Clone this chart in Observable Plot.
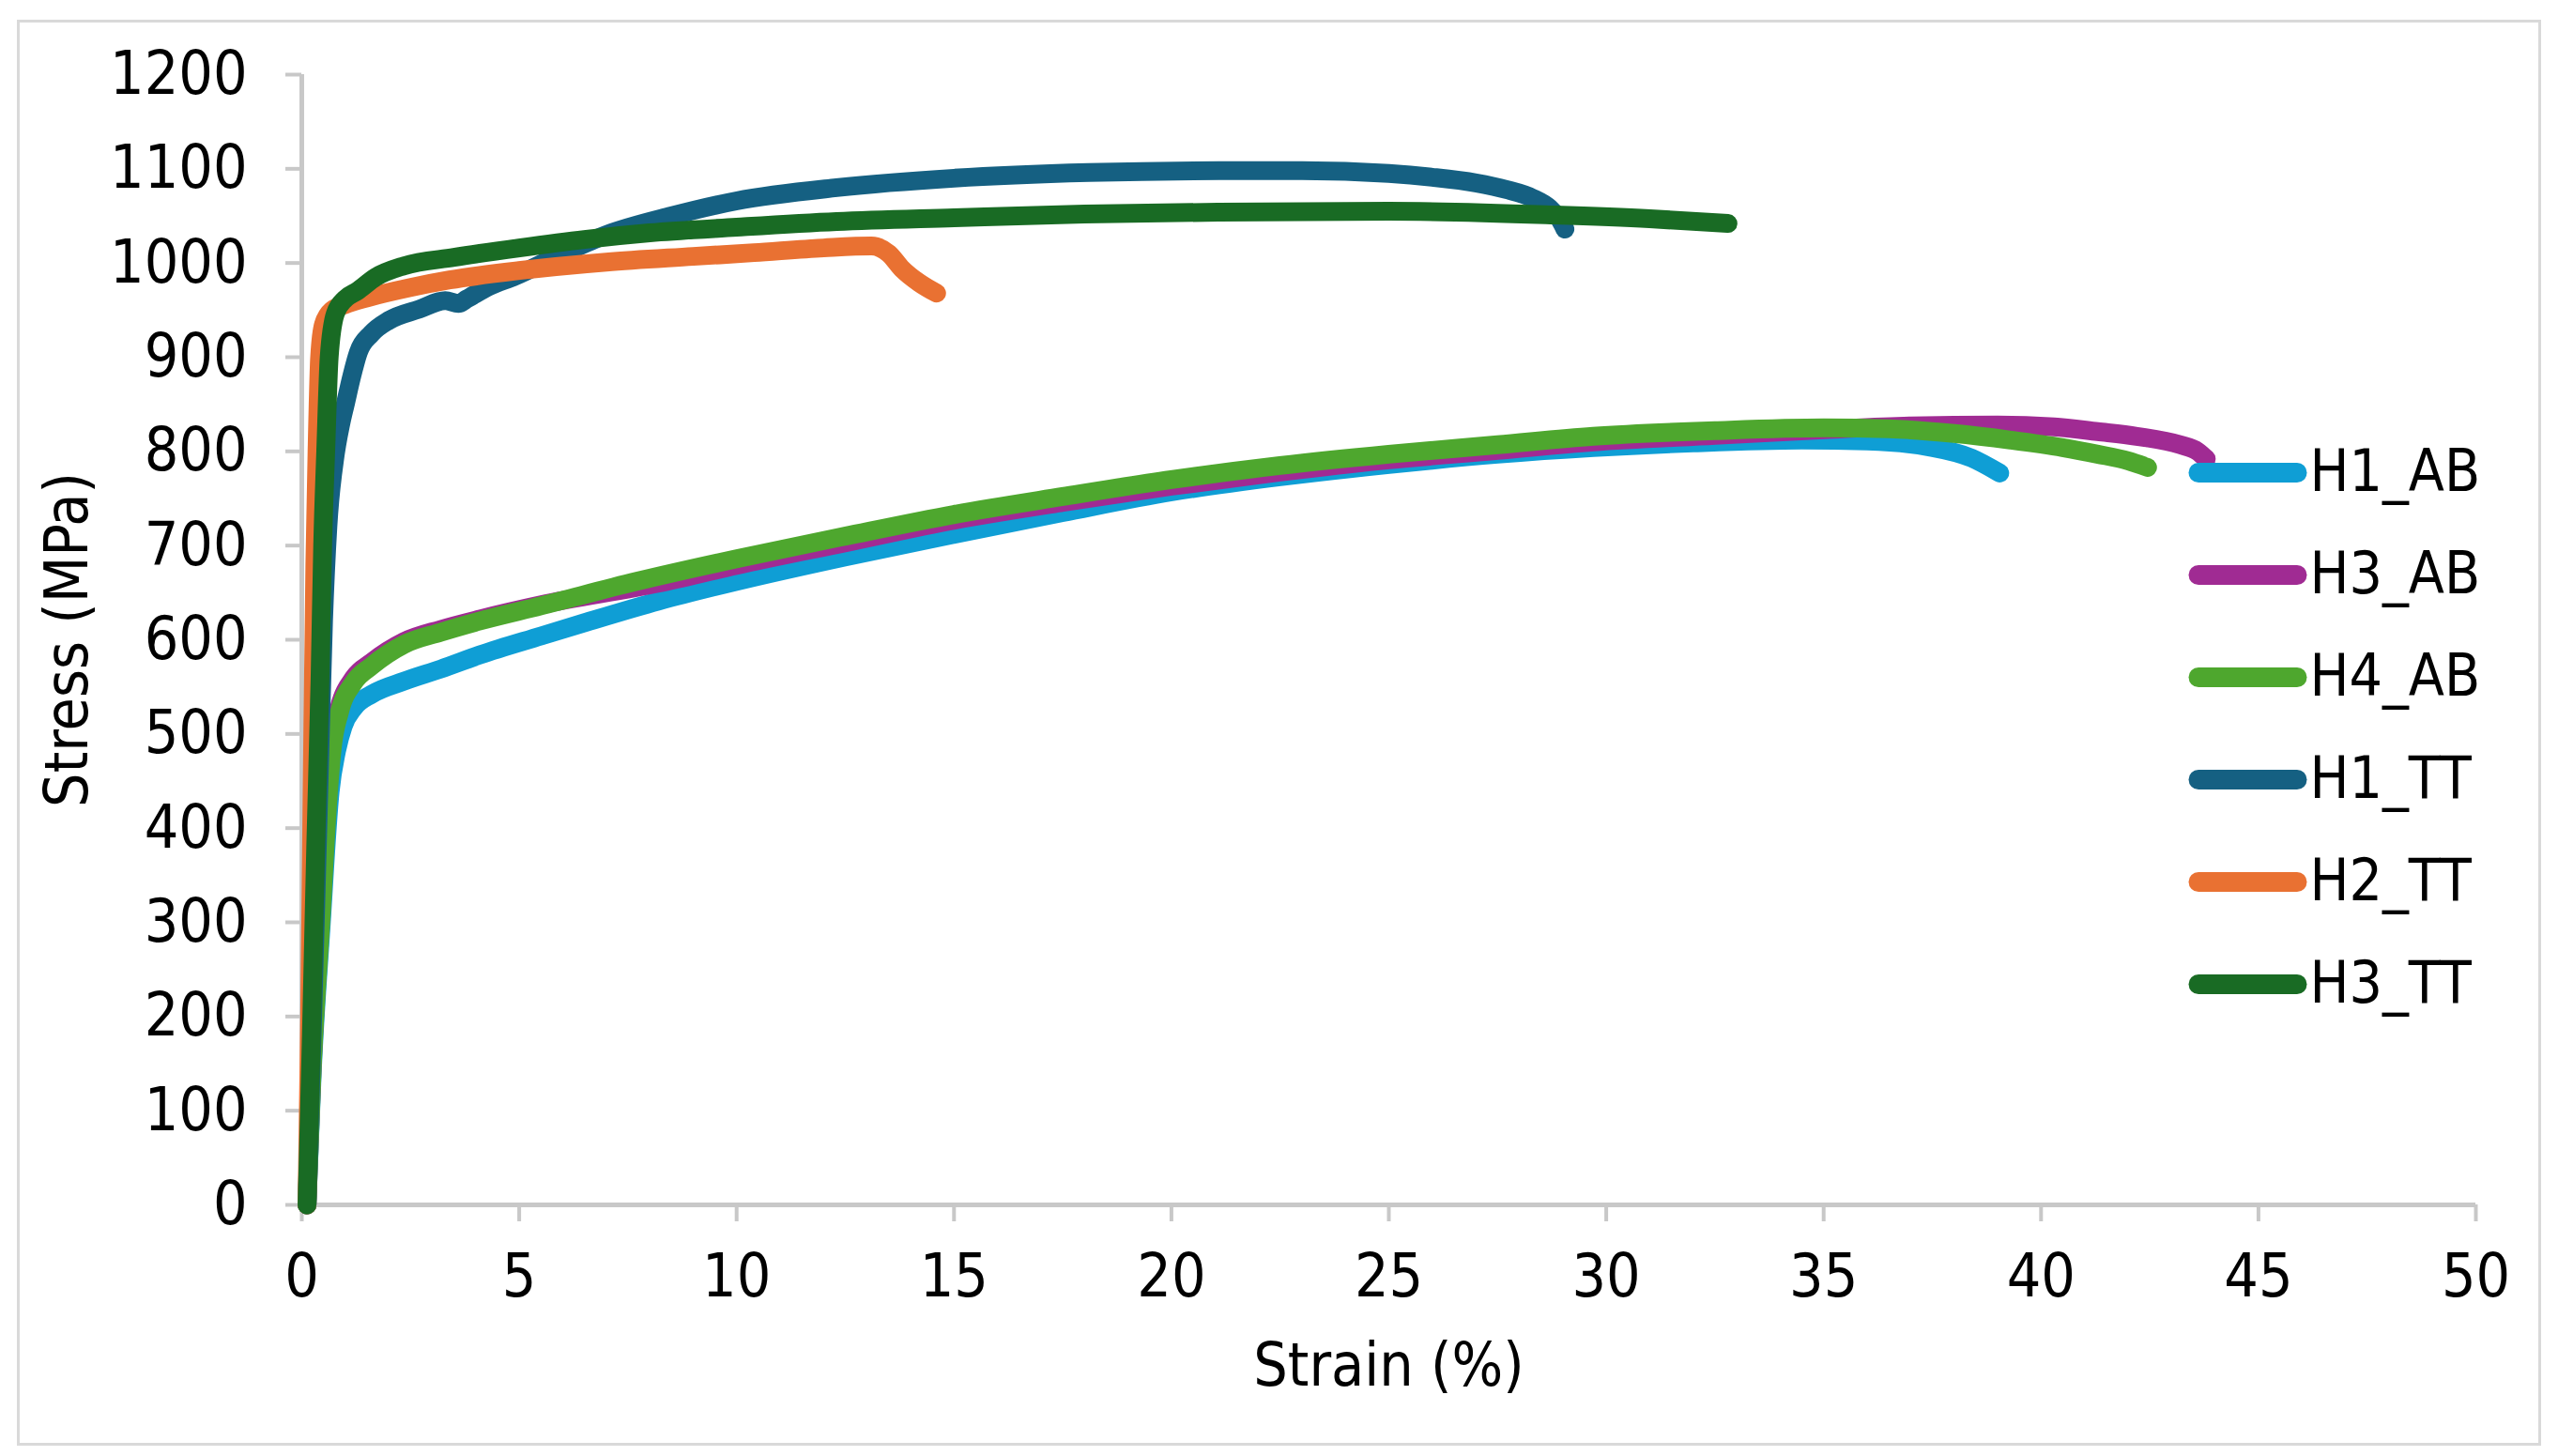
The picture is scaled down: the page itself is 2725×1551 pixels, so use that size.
<!DOCTYPE html>
<html>
<head>
<meta charset="utf-8">
<script src="https://cdn.jsdelivr.net/npm/d3@7"></script>
<script src="https://cdn.jsdelivr.net/npm/@observablehq/plot@0.6"></script>
<style>
  html, body { margin: 0; padding: 0; background: #fff; }
  #wrap { position: relative; width: 2725px; height: 1551px; overflow: hidden; }
  #border { position: absolute; left: 18px; top: 21px; width: 2689px; height: 1519px; border: 3px solid #d9d9d9; box-sizing: border-box; }
  #chart, #legend { position: absolute; top: 0; }
  #chart { left: 0; }
  #legend { left: 2320px; }
  svg { font-family: "DejaVu Sans Condensed", "DejaVu Sans", sans-serif; font-stretch: condensed; }
</style>
</head>
<body>
<div id="wrap"><div id="border"></div><div id="chart"></div><div id="legend"></div></div>
<script>
// ---- data (strain %, stress MPa) ----
const seriesNames = ["H1_AB", "H3_AB", "H4_AB", "H1_TT", "H2_TT", "H3_TT"];
const palette = ["#0F9ED5", "#A02B93", "#4EA72E", "#156082", "#E97132", "#196B24"];
const xTicks = [0, 5, 10, 15, 20, 25, 30, 35, 40, 45, 50];
const yTicks = [0, 100, 200, 300, 400, 500, 600, 700, 800, 900, 1000, 1100, 1200];

const H1_AB = [[0.12,0],[0.24,140],[0.45,300],[0.65,438],[0.8,482],[0.95,508],[1.2,528],[1.6,542],[2.35,556],[3.2,569],[4.1,584],[5.5,604],[6.5,618],[8.2,641],[10,662],[12.5,688],[15,712],[17.5,735],[20,757],[22.5,773],[25,786],[27.5,797],[29.7,804],[32,809],[34.5,812],[36,811],[37.4,805],[38.4,793],[39.05,777]];
const H3_AB = [[0.12,0],[0.24,150],[0.45,320],[0.6,445],[0.7,495],[0.86,528],[1.2,560],[1.6,576],[2.35,598],[3.2,611],[4.1,622],[5.5,637],[8.2,660],[10,679],[12.5,703],[15,727],[17.5,746],[20,763],[22.5,778],[25,791],[27.5,801],[29.7,810],[32.5,817],[35,823],[37,827],[39,828],[40.3,826],[41.3,821],[42.2,816],[43.2,807],[43.6,800],[43.8,792]];
const H4_AB = [[0.12,0],[0.24,146],[0.45,310],[0.6,430],[0.7,485],[0.86,522],[1.2,555],[1.6,572],[2.35,595],[3.2,608],[4.1,620],[5.5,636],[7.7,662],[10,686],[12.5,710],[15,733],[17.5,752],[20,770],[22.5,785],[25,797],[27.5,807],[29.7,816],[32.5,822],[35,825],[36.5,824],[38,819],[39.3,812],[40.5,804],[41.3,797],[42,790],[42.45,783]];
const H1_TT = [[0.12,0],[0.25,200],[0.38,420],[0.5,620],[0.6,720],[0.75,790],[0.9,830],[1.0,850],[1.15,880],[1.3,905],[1.6,925],[2.0,939],[2.7,951],[3.3,960],[3.6,957],[3.8,962],[4.3,975],[4.9,986],[6,1010],[7,1030],[8.5,1050],[10,1066],[12.3,1080],[15,1090],[18.1,1096],[21.1,1098],[23,1098],[25,1095],[26,1091],[27,1085],[27.7,1078],[28.3,1069],[28.7,1058],[28.95,1045],[29.05,1036]];
const H2_TT = [[0.12,0],[0.18,200],[0.24,450],[0.3,680],[0.35,800],[0.41,900],[0.5,935],[0.7,950],[1.0,956],[1.5,963],[2.5,974],[3.4,982],[5,992],[7,1001],[9,1007],[10.4,1011],[12,1016],[13.1,1018],[13.5,1010],[13.8,994],[14.2,979],[14.6,968]];
const H3_TT = [[0.12,0],[0.22,180],[0.32,380],[0.42,560],[0.48,700],[0.55,800],[0.63,900],[0.77,946],[1.0,962],[1.27,970],[1.7,985],[2.35,997],[3.5,1006],[5,1016],[6.5,1025],[8,1032],[10,1038],[12.3,1044],[15,1048],[18,1052],[21.1,1054],[25,1055],[28.8,1051],[31,1047],[32.8,1042]];

const curves = [H1_AB, H3_AB, H4_AB, H1_TT, H2_TT, H3_TT];
const rows = seriesNames.flatMap((name, i) =>
  curves[i].map(([strain, stress]) => ({series: name, strain, stress}))
);

const font = '"DejaVu Sans Condensed", "DejaVu Sans", sans-serif';
const axisGray = "#c8c8c8";

const chart = Plot.plot({
  width: 2725,
  height: 1551,
  marginLeft: 321,
  marginRight: 88,
  marginTop: 79,
  marginBottom: 268,
  style: {fontFamily: font, fontSize: "64px", color: "#000", background: "transparent", overflow: "visible"},
  x: {domain: [0, 50]},
  y: {domain: [0, 1200]},
  color: {domain: seriesNames, range: palette},
  marks: [
    Plot.ruleY([0], {stroke: axisGray, strokeWidth: 5}),
    Plot.ruleX([0], {stroke: axisGray, strokeWidth: 5}),
    Plot.axisX({
      ticks: xTicks, tickFormat: d => String(d), tickSize: 18, tickPadding: 34,
      stroke: axisGray, strokeWidth: 4, fill: "#000", fontSize: 64,
      label: "Strain (%)", labelAnchor: "center", labelOffset: 192, labelArrow: "none"
    }),
    Plot.axisY({
      ticks: yTicks, tickFormat: d => String(d), tickSize: 17, tickPadding: 41,
      stroke: axisGray, strokeWidth: 4, fill: "#000", fontSize: 64,
      label: "Stress (MPa)", labelAnchor: "center", labelOffset: 274, labelArrow: "none"
    }),
    Plot.line(rows, {
      x: "strain", y: "stress", z: "series", stroke: "series",
      strokeWidth: 20, strokeLinecap: "round", strokeLinejoin: "round", curve: "monotone-x"
    })
  ]
});
document.getElementById("chart").appendChild(chart);

const legend = Plot.plot({
  width: 405,
  height: 1551,
  marginLeft: 22,
  marginRight: 278,
  marginTop: 502,
  marginBottom: 503,
  style: {fontFamily: font, fontSize: "62px", color: "#000", background: "transparent", overflow: "visible"},
  x: {axis: null},
  y: {type: "point", domain: seriesNames, padding: 0, axis: null},
  color: {domain: seriesNames, range: palette},
  marks: [
    Plot.tickY(seriesNames, {y: d => d, stroke: d => d, strokeWidth: 21, strokeLinecap: "round"}),
    Plot.text(seriesNames, {y: d => d, text: d => d, frameAnchor: "right", textAnchor: "start", dx: 13, fontSize: 62, fill: "#000"})
  ]
});
document.getElementById("legend").appendChild(legend);
</script>
</body>
</html>
